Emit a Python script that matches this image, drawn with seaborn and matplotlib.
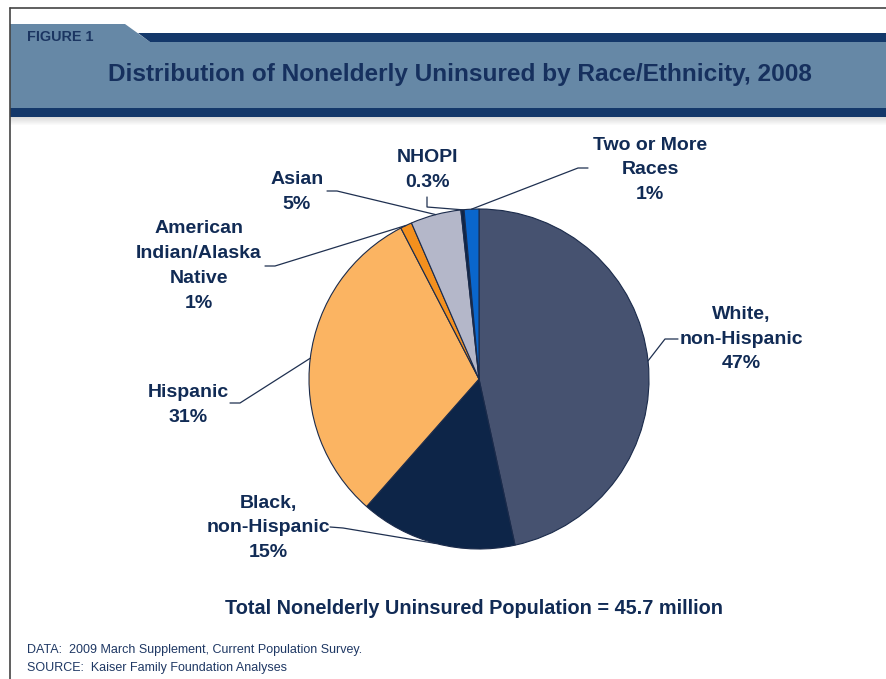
import matplotlib
matplotlib.use("Agg")
import matplotlib.pyplot as plt
from matplotlib.patches import Polygon, Rectangle
import numpy as np
import seaborn as sns

# Uninsured nonelderly by race/ethnicity, 2008 (shares in percent)
groups = ["White, non-Hispanic", "Black, non-Hispanic", "Hispanic",
          "American Indian/Alaska Native", "Asian", "NHOPI", "Two or More Races"]
shares = [46.6, 14.9, 30.9, 1.1, 4.8, 0.3, 1.4]
label_text = ["White,\nnon-Hispanic\n47%", "Black,\nnon-Hispanic\n15%", "Hispanic\n31%",
              "American\nIndian/Alaska\nNative\n1%", "Asian\n5%", "NHOPI\n0.3%",
              "Two or More\nRaces\n1%"]
slice_colors = ["#465270", "#0d2548", "#fbb462", "#f4901e", "#b4b7c9", "#0d2548", "#0a66cc"]

TITLE = "Distribution of Nonelderly Uninsured by Race/Ethnicity, 2008"
TOTAL = "Total Nonelderly Uninsured Population = 45.7 million"
NOTES = ["DATA:  2009 March Supplement, Current Population Survey.",
         "SOURCE:  Kaiser Family Foundation Analyses"]

NAVY = "#14386a"
BAND = "#6688a6"
TXT = "#112b55"

sns.set_theme(style="white")
plt.rcParams["font.family"] = ["Liberation Sans", "DejaVu Sans"]

W, H = 886, 679
fig = plt.figure(figsize=(W / 100, H / 100), dpi=100)
ax = fig.add_axes([0, 0, 1, 1])

# pie in pixel coords, y axis inverted -> counterclock=True draws clockwise on screen
cx, cy, r = 479, 379, 170
wedges, _ = ax.pie(shares, colors=slice_colors, startangle=-90, counterclock=True,
                   center=(cx, cy), radius=r,
                   wedgeprops=dict(edgecolor="#1b2b4b", linewidth=0.8))
ax.set_xlim(0, W)
ax.set_ylim(H, 0)
ax.set_aspect("equal")
ax.axis("off")

# frame and header bands
ax.plot([10, W], [8, 8], color="#444444", lw=1.2)
ax.plot([10, 10], [8, H], color="#444444", lw=1.2)
ax.add_patch(Polygon([(10, 24), (125, 24), (150, 42), (W, 42), (W, 108), (10, 108)],
                     closed=True, facecolor=BAND, edgecolor="none"))
ax.add_patch(Polygon([(138, 33), (W, 33), (W, 42), (150, 42)],
                     closed=True, facecolor=NAVY, edgecolor="none"))
ax.add_patch(Rectangle((10, 108), W - 10, 9, facecolor=NAVY, edgecolor="none"))
for i in range(8):
    ax.add_patch(Rectangle((10, 117 + i), W - 10, 1, facecolor="#9a9a9a",
                           alpha=0.35 * (1 - i / 8), edgecolor="none"))

ax.text(27, 37, "FIGURE 1", fontsize=10.4, fontweight="bold", color="#1b3561",
        ha="left", va="center")
ax.text(460, 75, TITLE, fontsize=17.6, fontweight="bold", color="#16305e",
        ha="center", va="center")

# label positions (text centre) and leader path from text side to the slice
label_pos = [(741, 339), (268, 528), (188, 405), (199, 266), (297, 192), (428, 170), (650, 170)]
leader_start = [[(678, 339), (665, 339)], [(330, 527), (343, 528)], [(230, 403), (240, 403)],
                [(265, 266), (275, 266)], [(327, 191), (337, 191)], [(427, 197), (427, 207)],
                [(588, 168), (578, 168)]]

for w, txt, pos, pts in zip(wedges, label_text, label_pos, leader_start):
    mid = np.deg2rad((w.theta1 + w.theta2) / 2)
    ex, ey = cx + r * np.cos(mid), cy + r * np.sin(mid)
    xs = [p[0] for p in pts] + [ex]
    ys = [p[1] for p in pts] + [ey]
    ax.plot(xs, ys, color="#1f3050", lw=0.9)
    ax.text(pos[0], pos[1], txt, fontsize=14, fontweight="bold", color=TXT,
            ha="center", va="center", linespacing=1.6)

ax.text(474, 608, TOTAL, fontsize=14.3, fontweight="bold", color=TXT,
        ha="center", va="center")
for i, line in enumerate(NOTES):
    ax.text(27, 650 + 18 * i, line, fontsize=9, color="#1f3864", ha="left", va="center")

fig.savefig("out.png", dpi=100, facecolor="white")
